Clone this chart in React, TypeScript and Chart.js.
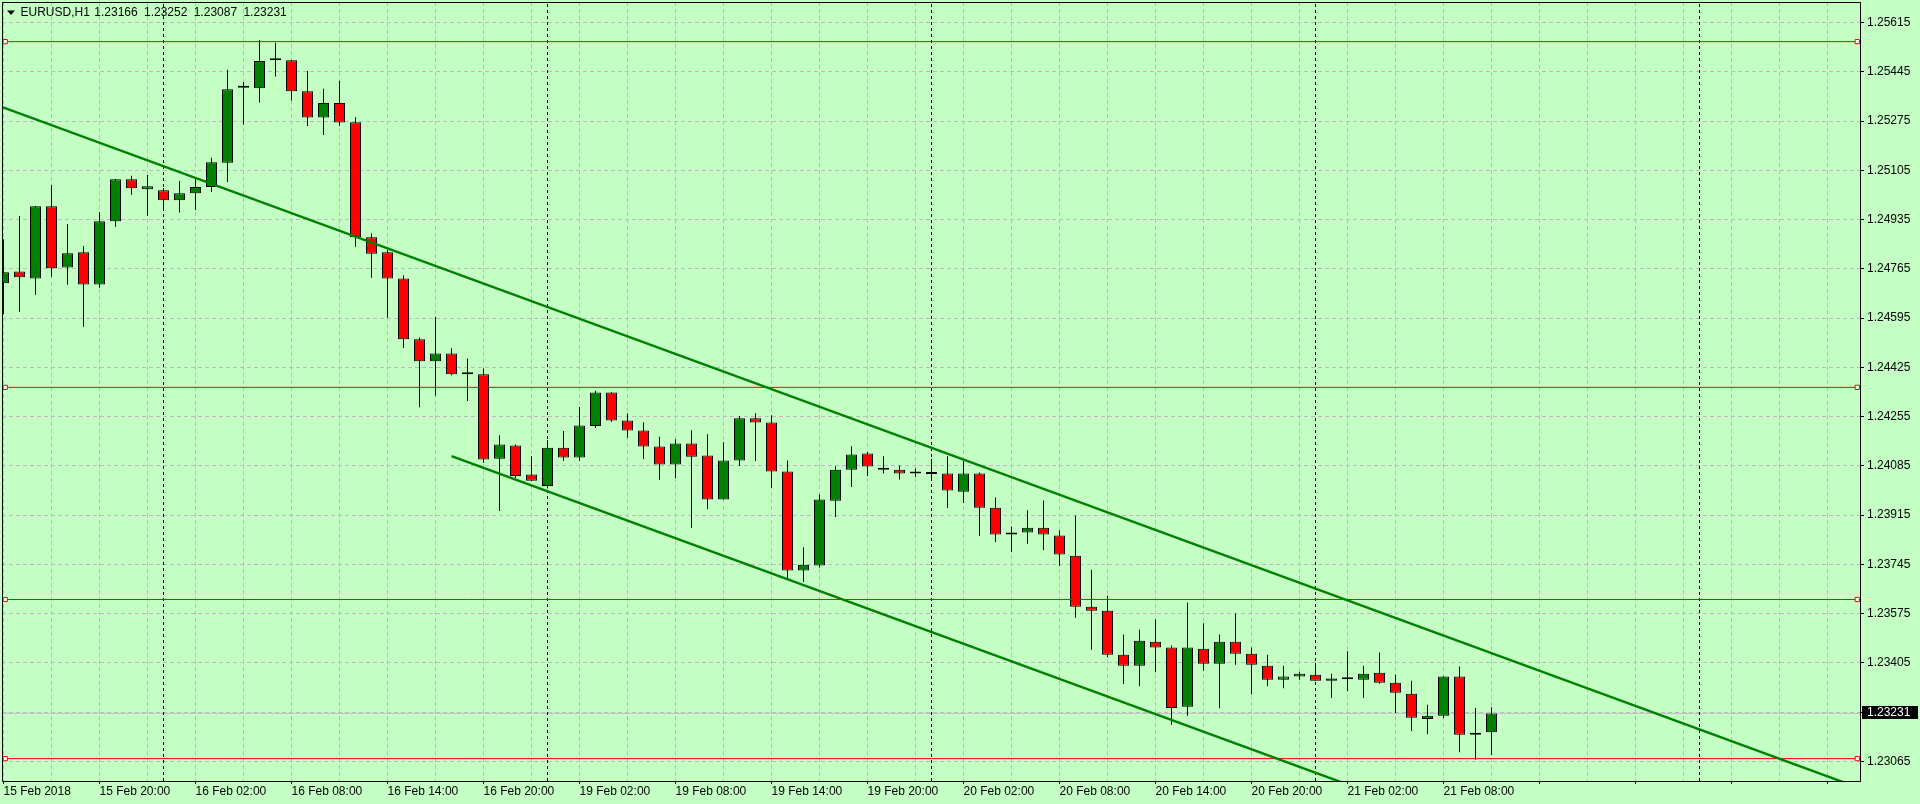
import React, { useEffect, useRef } from 'react';
import { Chart, registerables } from 'chart.js';

Chart.register(...registerables);

// ---------- data ----------
const SYMBOL = 'EURUSD';
const TIMEFRAME = 'H1';

const opens = [
  1.24715, 1.24756, 1.24732, 1.24981, 1.24770, 1.24822, 1.24711, 1.24929, 1.25074, 1.25040,
  1.25036, 1.25002, 1.25026, 1.25047, 1.25131, 1.25390, 1.25388, 1.25485, 1.25485, 1.25378,
  1.25287, 1.25337, 1.25271, 1.24874, 1.24822, 1.24732, 1.24522, 1.24446, 1.24473, 1.24401,
  1.24401, 1.24110, 1.24155, 1.24055, 1.24016, 1.24148, 1.24114, 1.24223, 1.24338, 1.24242,
  1.24207, 1.24152, 1.24090, 1.24162, 1.24121, 1.23969, 1.24104, 1.24249, 1.24235, 1.24066,
  1.23724, 1.23741, 1.23965, 1.24072, 1.24128, 1.24079, 1.24072, 1.24059, 1.24057, 1.24059,
  1.23996, 1.24059, 1.23941, 1.23848, 1.23855, 1.23872, 1.23845, 1.23775, 1.23599, 1.23585,
  1.23433, 1.23395, 1.23478, 1.23458, 1.23254, 1.23454, 1.23402, 1.23478, 1.23437, 1.23395,
  1.23347, 1.23358, 1.23364, 1.23344, 1.23349, 1.23347, 1.23371, 1.23337, 1.23299, 1.23212,
  1.23223, 1.23358, 1.23157, 1.23166,
];
const highs = [
  1.24867, 1.24947, 1.24982, 1.25054, 1.24920, 1.24844, 1.24961, 1.25075, 1.25086, 1.25089,
  1.25044, 1.25068, 1.25079, 1.25148, 1.25452, 1.25410, 1.25555, 1.25545, 1.25486, 1.25448,
  1.25386, 1.25414, 1.25288, 1.24888, 1.24830, 1.24743, 1.24528, 1.24600, 1.24491, 1.24456,
  1.24421, 1.24191, 1.24159, 1.24118, 1.24174, 1.24205, 1.24288, 1.24344, 1.24339, 1.24266,
  1.24236, 1.24186, 1.24177, 1.24208, 1.24194, 1.24167, 1.24257, 1.24267, 1.24260, 1.24104,
  1.23804, 1.23986, 1.24084, 1.24153, 1.24133, 1.24118, 1.24086, 1.24076, 1.24110, 1.24118,
  1.24102, 1.24062, 1.23976, 1.23876, 1.23932, 1.23966, 1.23862, 1.23914, 1.23727, 1.23637,
  1.23503, 1.23520, 1.23555, 1.23465, 1.23613, 1.23542, 1.23503, 1.23576, 1.23458, 1.23433,
  1.23395, 1.23375, 1.23406, 1.23368, 1.23445, 1.23395, 1.23441, 1.23364, 1.23344, 1.23261,
  1.23358, 1.23393, 1.23250, 1.23252,
];
const lows = [
  1.24608, 1.24617, 1.24676, 1.24738, 1.24710, 1.24565, 1.24700, 1.24910, 1.25021, 1.24948,
  1.24968, 1.24959, 1.24968, 1.25030, 1.25065, 1.25263, 1.25339, 1.25429, 1.25346, 1.25258,
  1.25227, 1.25258, 1.24841, 1.24734, 1.24596, 1.24492, 1.24287, 1.24327, 1.24398, 1.24309,
  1.24095, 1.23929, 1.24043, 1.24034, 1.24007, 1.24102, 1.24102, 1.24216, 1.24237, 1.24182,
  1.24109, 1.24037, 1.24043, 1.23871, 1.23936, 1.23969, 1.24085, 1.24102, 1.24009, 1.23696,
  1.23684, 1.23734, 1.23909, 1.24012, 1.24050, 1.24059, 1.24038, 1.24047, 1.24038, 1.23940,
  1.23957, 1.23843, 1.23822, 1.23788, 1.23816, 1.23795, 1.23740, 1.23561, 1.23451, 1.23425,
  1.23332, 1.23325, 1.23373, 1.23192, 1.23223, 1.23378, 1.23249, 1.23399, 1.23297, 1.23325,
  1.23318, 1.23347, 1.23344, 1.23284, 1.23308, 1.23284, 1.23333, 1.23232, 1.23170, 1.23159,
  1.23215, 1.23097, 1.23071, 1.23087,
];
const closes = [
  1.24753, 1.24736, 1.24981, 1.24767, 1.24819, 1.24711, 1.24929, 1.25074, 1.25043, 1.25050,
  1.25002, 1.25026, 1.25047, 1.25133, 1.25385, 1.25390, 1.25482, 1.25485, 1.25378, 1.25287,
  1.25337, 1.25270, 1.24874, 1.24817, 1.24732, 1.24522, 1.24446, 1.24473, 1.24401, 1.24401,
  1.24107, 1.24159, 1.24050, 1.24034, 1.24148, 1.24114, 1.24224, 1.24338, 1.24242, 1.24207,
  1.24152, 1.24090, 1.24162, 1.24117, 1.23969, 1.24104, 1.24249, 1.24235, 1.24066, 1.23724,
  1.23744, 1.23969, 1.24072, 1.24124, 1.24083, 1.24072, 1.24059, 1.24059, 1.24057, 1.24000,
  1.24059, 1.23941, 1.23848, 1.23855, 1.23872, 1.23848, 1.23779, 1.23599, 1.23585, 1.23433,
  1.23395, 1.23482, 1.23458, 1.23250, 1.23458, 1.23402, 1.23478, 1.23437, 1.23399, 1.23347,
  1.23358, 1.23368, 1.23344, 1.23351, 1.23349, 1.23368, 1.23337, 1.23302, 1.23216, 1.23223,
  1.23358, 1.23157, 1.23164, 1.23231,
];

// x-axis labels, one every 6 hourly bars starting at bar 0
const xTickLabels = [
  '15 Feb 2018', '15 Feb 20:00', '16 Feb 02:00', '16 Feb 08:00', '16 Feb 14:00', '16 Feb 20:00',
  '19 Feb 02:00', '19 Feb 08:00', '19 Feb 14:00', '19 Feb 20:00', '20 Feb 02:00', '20 Feb 08:00',
  '20 Feb 14:00', '20 Feb 20:00', '21 Feb 02:00', '21 Feb 08:00',
];
const BARS_PER_LABEL = 6;
// bars at which a new day starts (16, 19, 20, 21, 22 Feb 00:00)
const daySeparatorBars = [10, 34, 58, 82, 106];

const yTicks = [
  1.25615, 1.25445, 1.25275, 1.25105, 1.24935, 1.24765, 1.24595, 1.24425, 1.24255,
  1.24085, 1.23915, 1.23745, 1.23575, 1.23405, 1.23235, 1.23065,
];

// horizontal levels
const levelPrices = [1.25549, 1.24356, 1.23624, 1.23075];
// channel trend lines (bar index, price)
const upperChannelBars = [-1, 117];
const upperChannelPrices = [1.25342, 1.22953];
const lowerChannelBars = [28, 117];
const lowerChannelPrices = [1.24119, 1.22318];

// ---------- view / style ----------
const X_MIN = -0.09375;
const X_MAX = 116.03125;
const Y_MIN = 1.2299771;
const Y_MAX = 1.2568574;
const LEVEL_MARKER_BARS = [0.11, 115.86];

const BG = '#c4ffc4';
const BULL = '#008000';
const BEAR = '#ff0000';
const GRID = '#c2b5c6';
const FONT = '"Liberation Sans", Arial, sans-serif';

const lastIdx = closes.length - 1;
const lastClose = closes[lastIdx];

const overlayPlugin = {
  id: 'mt4overlay',
  beforeDraw(chart: any) {
    const { ctx, width, height } = chart;
    ctx.save();
    ctx.fillStyle = BG;
    ctx.fillRect(0, 0, width, height);
    ctx.restore();
  },
  afterDraw(chart: any) {
    const { ctx, chartArea } = chart;
    const { left, top, right, bottom } = chartArea;
    ctx.save();
    // frame
    ctx.strokeStyle = '#000';
    ctx.lineWidth = 1;
    ctx.beginPath();
    ctx.moveTo(left + 0.5, top + 0.5);
    ctx.lineTo(right + 0.5, top + 0.5);
    ctx.lineTo(right + 0.5, bottom + 0.5);
    ctx.lineTo(left + 0.5, bottom + 0.5);
    ctx.closePath();
    ctx.stroke();

    // current price label
    const yScale = chart.scales.y;
    const py = Math.round(yScale.getPixelForValue(lastClose));
    ctx.fillStyle = '#000';
    ctx.fillRect(right + 2, py - 7, 56, 13);
    ctx.fillStyle = '#fff';
    ctx.font = `12px ${FONT}`;
    ctx.textBaseline = 'middle';
    ctx.textAlign = 'left';
    ctx.fillText(lastClose.toFixed(5), right + 7, py);

    // header
    ctx.fillStyle = '#000';
    ctx.beginPath();
    ctx.moveTo(7, 10.5);
    ctx.lineTo(15, 10.5);
    ctx.lineTo(11, 15);
    ctx.closePath();
    ctx.fill();
    ctx.fillText(`${SYMBOL},${TIMEFRAME}`, 20.5, 13);
    const ohlc = [opens[lastIdx], highs[lastIdx], lows[lastIdx], closes[lastIdx]];
    ohlc.forEach((v, k) => {
      ctx.fillText(v.toFixed(5), 94.3 + k * 49.7, 13);
    });
    ctx.restore();
  },
};

export default function App() {
  const ref = useRef<HTMLCanvasElement | null>(null);

  useEffect(() => {
    document.body.style.margin = '0';
    const canvas = ref.current;
    if (!canvas) return;

    const idx = opens.map((_, i) => i);
    const bodyColors = idx.map((i) =>
      closes[i] > opens[i] ? BULL : closes[i] < opens[i] ? BEAR : '#000'
    );

    const levelDatasets = levelPrices.map((p) => ({
      type: 'line',
      label: 'level',
      data: [
        { x: X_MIN, y: p },
        { x: LEVEL_MARKER_BARS[0], y: p },
        { x: LEVEL_MARKER_BARS[1], y: p },
        { x: X_MAX, y: p },
      ],
      borderColor: '#ff0000',
      borderWidth: 1,
      pointRadius: [0, 3, 3, 0],
      pointStyle: 'rect',
      pointBackgroundColor: '#ffffff',
      pointBorderColor: '#ff0000',
      pointBorderWidth: 1,
      fill: false,
      order: 6,
    }));

    const chart = new Chart(canvas, {
      type: 'bar',
      data: {
        datasets: [
          {
            type: 'line',
            label: 'bid',
            data: [
              { x: X_MIN, y: lastClose },
              { x: X_MAX, y: lastClose },
            ],
            borderColor: '#c0c0c0',
            borderWidth: 1,
            pointRadius: 0,
            fill: false,
            order: 10,
          },
          {
            type: 'line',
            label: 'days',
            data: daySeparatorBars.flatMap((b) => [
              { x: b, y: Y_MIN },
              { x: b, y: Y_MAX },
              { x: b, y: null },
            ]),
            borderColor: '#000',
            borderWidth: 1,
            borderDash: [3, 3],
            pointRadius: 0,
            spanGaps: false,
            fill: false,
            order: 9,
          },
          {
            type: 'bar',
            label: 'wicks',
            data: idx.map((i) => ({ x: i, y: [lows[i], highs[i]] })),
            backgroundColor: '#000',
            borderWidth: 0,
            barThickness: 1,
            grouped: false,
            inflateAmount: 0,
            order: 8,
          },
          {
            type: 'bar',
            label: 'bodies',
            data: idx.map((i) => ({ x: i, y: [opens[i], closes[i]] })),
            backgroundColor: bodyColors,
            borderColor: '#000',
            borderWidth: 1,
            borderSkipped: false,
            barThickness: 11,
            minBarLength: 2,
            grouped: false,
            inflateAmount: 0,
            order: 7,
          },
          ...levelDatasets,
          {
            type: 'line',
            label: 'upper',
            data: upperChannelBars.map((b, k) => ({ x: b, y: upperChannelPrices[k] })),
            borderColor: '#008000',
            borderWidth: 2.4,
            pointRadius: 0,
            fill: false,
            order: 5,
          },
          {
            type: 'line',
            label: 'lower',
            data: lowerChannelBars.map((b, k) => ({ x: b, y: lowerChannelPrices[k] })),
            borderColor: '#008000',
            borderWidth: 2.4,
            pointRadius: 0,
            fill: false,
            order: 5,
          },
        ],
      } as any,
      options: {
        responsive: false,
        animation: false,
        devicePixelRatio: 1,
        events: [],
        layout: { padding: { left: 2, top: 2, right: 0, bottom: 0 } },
        plugins: {
          legend: { display: false },
          tooltip: { enabled: false },
          title: { display: false },
        },
        scales: {
          x: {
            type: 'linear',
            position: 'bottom',
            min: X_MIN,
            max: X_MAX,
            offset: false,
            afterBuildTicks: (scale: any) => {
              const t: any[] = [];
              for (let v = 0; v <= X_MAX; v += 3) t.push({ value: v });
              scale.ticks = t;
            },
            afterFit: (scale: any) => {
              scale.height = 23;
              scale.paddingLeft = 0;
              scale.paddingRight = 0;
              scale.paddingTop = 0;
              scale.paddingBottom = 0;
            },
            grid: {
              color: GRID,
              lineWidth: 1,
              drawTicks: true,
              tickLength: 3,
              tickWidth: 1,
              tickColor: (ctx: any) =>
                ctx.tick && Math.round(ctx.tick.value) % BARS_PER_LABEL === 0 ? '#000' : 'rgba(0,0,0,0)',
              offset: false,
            },
            border: { display: false, dash: [4, 3] },
            ticks: {
              autoSkip: false,
              maxRotation: 0,
              minRotation: 0,
              align: 'start',
              padding: 0,
              color: '#000',
              font: { family: FONT, size: 12 },
              callback: (v: any) => {
                const n = Math.round(Number(v));
                if (n % BARS_PER_LABEL !== 0) return '';
                const k = n / BARS_PER_LABEL;
                return k < xTickLabels.length ? xTickLabels[k] : '';
              },
            },
          },
          y: {
            type: 'linear',
            position: 'right',
            min: Y_MIN,
            max: Y_MAX,
            afterBuildTicks: (scale: any) => {
              scale.ticks = yTicks.map((v) => ({ value: v }));
            },
            afterFit: (scale: any) => {
              scale.width = 60;
              scale.paddingLeft = 0;
              scale.paddingRight = 0;
              scale.paddingTop = 0;
              scale.paddingBottom = 0;
            },
            grid: {
              color: GRID,
              lineWidth: 1,
              drawTicks: true,
              tickLength: 4,
              tickWidth: 1,
              tickColor: '#000',
            },
            border: { display: false, dash: [4, 3] },
            ticks: {
              autoSkip: false,
              padding: 3,
              color: '#000',
              font: { family: FONT, size: 12 },
              callback: (v: any) => Number(v).toFixed(5),
            },
          },
        },
      } as any,
      plugins: [overlayPlugin],
    });

    return () => chart.destroy();
  }, []);

  return (
    <div style={{ width: 1920, height: 804, overflow: 'hidden' }}>
      <canvas ref={ref} width={1920} height={804} style={{ display: 'block', width: 1920, height: 804 }} />
    </div>
  );
}
